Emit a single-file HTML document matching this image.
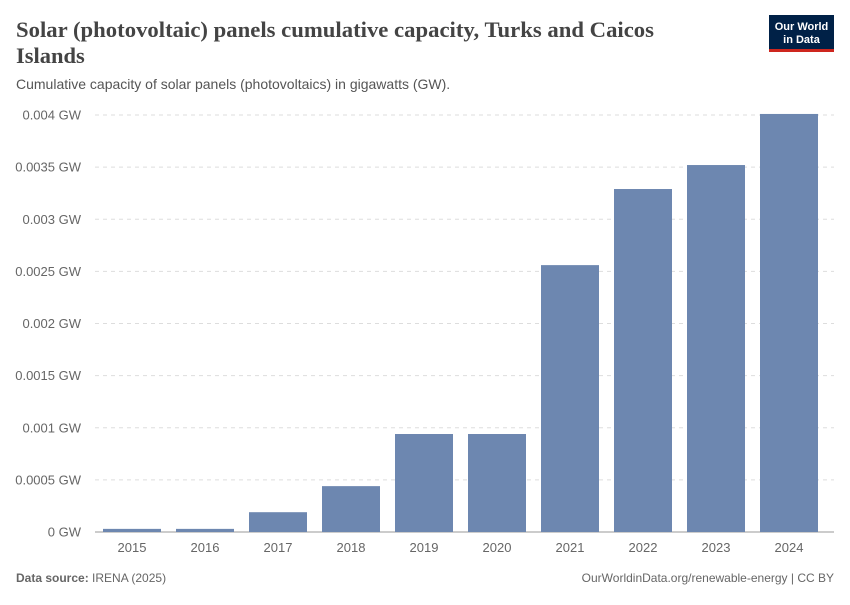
<!DOCTYPE html>
<html><head><meta charset="utf-8"><style>
body{margin:0;background:#fff;width:850px;height:600px;overflow:hidden;font-family:"Liberation Sans",sans-serif;}
</style></head><body>
<svg width="850" height="600" xmlns="http://www.w3.org/2000/svg">
<text x="16" y="37" font-family="Liberation Serif,serif" font-size="22.5" font-weight="bold" fill="#444" textLength="638" lengthAdjust="spacingAndGlyphs">Solar (photovoltaic) panels cumulative capacity, Turks and Caicos</text>
<text x="16" y="63" font-family="Liberation Serif,serif" font-size="22.5" font-weight="bold" fill="#444">Islands</text>
<text x="16" y="89" font-size="14" fill="#555">Cumulative capacity of solar panels (photovoltaics) in gigawatts (GW).</text>
<g>
<rect x="769" y="15" width="65" height="37" fill="#002147"/>
<rect x="769" y="49" width="65" height="3" fill="#ce261e"/>
<text x="801.5" y="30" font-size="11" fill="#fff" text-anchor="middle" font-weight="bold">Our World</text>
<text x="801.5" y="43" font-size="11" fill="#fff" text-anchor="middle" font-weight="bold">in Data</text>
</g>
<g id="grid"></g><g id="bars"></g><g id="xl"></g>
<text x="16" y="582" font-size="12" fill="#666"><tspan font-weight="bold">Data source:</tspan> IRENA (2025)</text>
<text x="834" y="582" font-size="12" fill="#666" text-anchor="end">OurWorldinData.org/renewable-energy | CC BY</text>
</svg>
<script>
const categories=["2015","2016","2017","2018","2019","2020","2021","2022","2023","2024"];
const values=[0.00003,0.00003,0.00019,0.00044,0.00094,0.00094,0.00256,0.00329,0.00352,0.00401];
const ticks=[0,0.0005,0.001,0.0015,0.002,0.0025,0.003,0.0035,0.004];
const tickLabels=["0 GW","0.0005 GW","0.001 GW","0.0015 GW","0.002 GW","0.0025 GW","0.003 GW","0.0035 GW","0.004 GW"];
const NS="http://www.w3.org/2000/svg";
const y0=532,yTop=115,yMax=0.004;
const y=v=>y0-(v/yMax)*(y0-yTop);
const x=i=>132+i*73;
const bw=58;
function mk(t,a,p){const e=document.createElementNS(NS,t);for(const k in a)e.setAttribute(k,a[k]);p.appendChild(e);return e;}
const g=document.getElementById('grid');
ticks.forEach((t,i)=>{
  const l=mk('line',{x1:95,x2:834,y1:y(t),y2:y(t),stroke:i==0?'#999':'#ddd','stroke-dasharray':i==0?'':'4,4'},g);
  
  
  const tx=mk('text',{x:81,y:y(t)+4.5,'font-size':13,fill:'#666','text-anchor':'end'},g);
  tx.textContent=tickLabels[i];
  
  
});
const b=document.getElementById('bars'),xl=document.getElementById('xl');
categories.forEach((c,i)=>{
  const r=mk('rect',{x:x(i)-bw/2,y:y(values[i]),width:bw,height:y0-y(values[i]),fill:'#6d87b0'},b);
  
  
  const t=mk('text',{x:x(i),y:552,'font-size':13,fill:'#666','text-anchor':'middle'},xl);
  t.textContent=c;
  
  
});
</script>
</body></html>
